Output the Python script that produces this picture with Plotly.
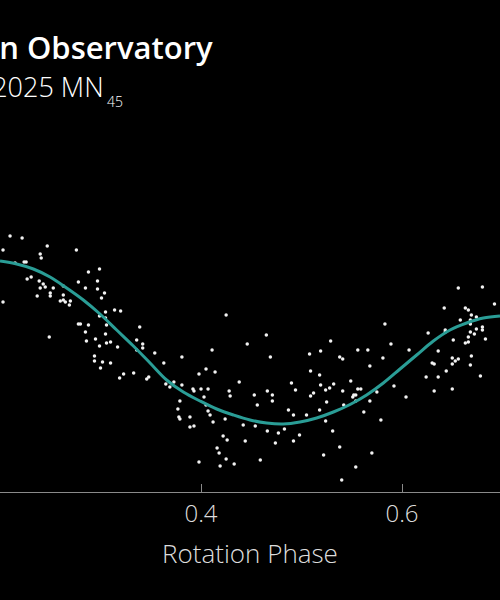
import plotly.graph_objects as go

# Observed photometry: rotation phase and relative brightness (arbitrary units)
obs_phase = [
    0.210, 0.222, 0.247, 0.203, 0.276, 0.240, 0.241, 0.215, 0.224, 0.226,
    0.299, 0.288, 0.231, 0.227, 0.239, 0.297, 0.243, 0.263, 0.278, 0.240,
    0.245, 0.253, 0.285, 0.297, 0.304, 0.250, 0.250, 0.237, 0.301, 0.263,
    0.203, 0.260, 0.263, 0.265, 0.270, 0.269, 0.314, 0.320, 0.305, 0.299,
    0.305, 0.278, 0.280, 0.288, 0.306, 0.339, 0.285, 0.305, 0.249, 0.295,
    0.336, 0.286, 0.306, 0.310, 0.342, 0.299, 0.317, 0.342, 0.336, 0.354,
    0.294,
    0.425, 0.465, 0.411, 0.446, 0.381, 0.469, 0.508, 0.519, 0.529,
    0.656, 0.680, 0.692, 0.642, 0.663, 0.666, 0.669, 0.674, 0.658, 0.668,
    0.668, 0.583, 0.680, 0.680, 0.674, 0.668, 0.672, 0.626, 0.643, 0.643,
    0.683, 0.666, 0.651, 0.666, 0.663, 0.589, 0.556, 0.566, 0.607, 0.636,
    0.581, 0.538, 0.541, 0.650, 0.656, 0.669,
    0.294, 0.302, 0.310, 0.300, 0.323, 0.333, 0.319, 0.346, 0.348, 0.363,
    0.365,
    0.405, 0.414, 0.398, 0.438, 0.509, 0.518, 0.490, 0.519, 0.528, 0.524,
    0.494, 0.373, 0.381, 0.369, 0.392, 0.393, 0.400, 0.407, 0.428, 0.429,
    0.466, 0.471, 0.453, 0.471, 0.456, 0.512, 0.509, 0.525, 0.379, 0.403,
    0.405, 0.377, 0.407, 0.409, 0.378, 0.379, 0.389, 0.424, 0.412, 0.442,
    0.454, 0.487, 0.492, 0.505, 0.518, 0.524, 0.389, 0.393, 0.466, 0.477,
    0.483, 0.498, 0.422, 0.426, 0.444, 0.474, 0.492, 0.416, 0.418, 0.425,
    0.433, 0.398, 0.459, 0.419, 0.522, 0.531,
    0.568, 0.630, 0.632, 0.650, 0.653, 0.668, 0.644, 0.624, 0.636, 0.678,
    0.532, 0.549, 0.556, 0.559, 0.541, 0.575, 0.592, 0.632, 0.650, 0.552,
    0.554, 0.551, 0.554, 0.568, 0.542, 0.604, 0.562, 0.579, 0.538, 0.570,
    0.554, 0.540,
]
obs_brightness = [
    0.620, 0.610, 0.570, 0.550, 0.550, 0.530, 0.510, 0.485, 0.490, 0.490,
    0.455, 0.440, 0.415, 0.405, 0.395, 0.395, 0.380, 0.370, 0.390, 0.360,
    0.365, 0.360, 0.360, 0.355, 0.335, 0.335, 0.320, 0.320, 0.310, 0.325,
    0.290, 0.295, 0.300, 0.290, 0.295, 0.275, 0.250, 0.245, 0.240, 0.220,
    0.210, 0.180, 0.180, 0.175, 0.175, 0.165, 0.140, 0.130, 0.115, 0.105,
    0.100, 0.095, 0.085, 0.090, 0.080, 0.070, 0.065, 0.060, 0.050, 0.035,
    0.020,
    0.225, 0.125, 0.050, 0.080, 0.015, 0.015, 0.030, 0.045, 0.095,
    0.360, 0.365, 0.280, 0.260, 0.260, 0.250, 0.225, 0.215, 0.200, 0.200,
    0.180, 0.180, 0.165, 0.150, 0.155, 0.140, 0.130, 0.135, 0.150, 0.140,
    0.105, 0.115, 0.100, 0.090, 0.085, 0.080, 0.050, 0.050, 0.050, 0.045,
    0.010, 0.015, 0.005, 0.010, 0.005, 0.020,
    -0.005, -0.010, -0.015, -0.040, -0.070, -0.065, -0.090, -0.095, -0.085, -0.015,
    -0.120,
    -0.045, -0.060, -0.070, -0.110, -0.055, -0.075, -0.115, -0.125, -0.140, -0.150,
    -0.150, -0.110, -0.125, -0.135, -0.145, -0.155, -0.145, -0.145, -0.155, -0.180,
    -0.155, -0.175, -0.175, -0.205, -0.225, -0.165, -0.180, -0.210, -0.205, -0.185,
    -0.225, -0.245, -0.255, -0.275, -0.285, -0.295, -0.285, -0.295, -0.310, -0.325,
    -0.330, -0.250, -0.275, -0.275, -0.250, -0.305, -0.335, -0.330, -0.355, -0.365,
    -0.345, -0.375, -0.380, -0.400, -0.405, -0.415, -0.405, -0.440, -0.465, -0.495,
    -0.520, -0.510, -0.500, -0.530, -0.475, -0.355,
    -0.030, -0.015, -0.020, -0.020, -0.005, -0.025, -0.055, -0.085, -0.085, -0.080,
    -0.120, -0.105, -0.145, -0.145, -0.155, -0.160, -0.130, -0.155, -0.145, -0.175,
    -0.175, -0.185, -0.205, -0.205, -0.225, -0.185, -0.260, -0.300, -0.435, -0.465,
    -0.535, -0.600,
]

# Fitted light-curve model, sampled along the phase axis
fit_phase = [
    0.2000, 0.2166, 0.2332, 0.2498, 0.2663, 0.2829, 0.2995, 0.3161, 0.3327, 0.3493,
    0.3658, 0.3824, 0.3990, 0.4156, 0.4322, 0.4488, 0.4653, 0.4819, 0.4985, 0.5151,
    0.5317, 0.5483, 0.5648, 0.5814, 0.5980, 0.6146, 0.6312, 0.6478, 0.6643, 0.6809,
    0.6975,
]
fit_brightness = [
    0.495, 0.480, 0.455, 0.415, 0.360, 0.300, 0.230, 0.150, 0.070, -0.015,
    -0.100, -0.160, -0.205, -0.245, -0.275, -0.300, -0.315, -0.320, -0.310, -0.290,
    -0.260, -0.2225, -0.175, -0.115, -0.045, 0.025, 0.095, 0.150, 0.185, 0.210,
    0.220,
]

x_ticks = [0.2, 0.4, 0.6]
x_tick_labels = ["0.2", "0.4", "0.6"]

title_text = "Vera C. Rubin Observatory"
subtitle_text = "Asteroid 2025 MN"
subtitle_sub = "45"
x_title = "Rotation Phase"

FONT = "Open Sans"

fig = go.Figure()
fig.add_trace(go.Scatter(
    x=obs_phase, y=obs_brightness, mode="markers",
    marker=dict(size=3.5, color="#f2f2f2", line=dict(width=0)),
    showlegend=False, hoverinfo="skip",
))
fig.add_trace(go.Scatter(
    x=fit_phase, y=fit_brightness, mode="lines",
    line=dict(color="#2a9d96", width=3, shape="spline", smoothing=1.0),
    showlegend=False, hoverinfo="skip",
))

fig.update_layout(
    width=500, height=600,
    margin=dict(l=0, r=0, t=130, b=108, pad=0),
    paper_bgcolor="#000000", plot_bgcolor="#000000",
    font=dict(family=FONT, color="#dddddd"),
    xaxis=dict(
        range=[0.2, 0.6975],
        tickvals=x_ticks, ticktext=x_tick_labels,
        ticks="inside", ticklen=8, tickwidth=1, tickcolor="#8a8a8a",
        showline=True, linecolor="#8a8a8a", linewidth=1,
        showgrid=False, zeroline=False,
        tickfont=dict(family=FONT, size=24, color="#dddddd", weight=300),
        title=dict(text=x_title, font=dict(family=FONT, size=26, color="#dddddd", weight=300), standoff=17),
    ),
    yaxis=dict(range=[-0.66, 1.15], visible=False, showgrid=False, zeroline=False),
    annotations=[
        dict(text=title_text, xref="paper", yref="paper", x=0.43, y=1.2293,
             xanchor="right", yanchor="middle", showarrow=False,
             font=dict(family=FONT, size=31, color="#ffffff", weight=600)),
        dict(text=subtitle_text, xref="paper", yref="paper", x=0.212, y=1.1215,
             xanchor="right", yanchor="middle", showarrow=False,
             font=dict(family=FONT, size=27, color="#ffffff", weight=300)),
        dict(text=subtitle_sub, xref="paper", yref="paper", x=0.249, y=1.0775,
             xanchor="right", yanchor="middle", showarrow=False,
             font=dict(family=FONT, size=14, color="#ffffff", weight=300)),
    ],
)

fig.write_html(
    "out.html",
    config={"displayModeBar": False},
    post_script="document.body.style.margin='0';document.body.style.background='#000';",
)
